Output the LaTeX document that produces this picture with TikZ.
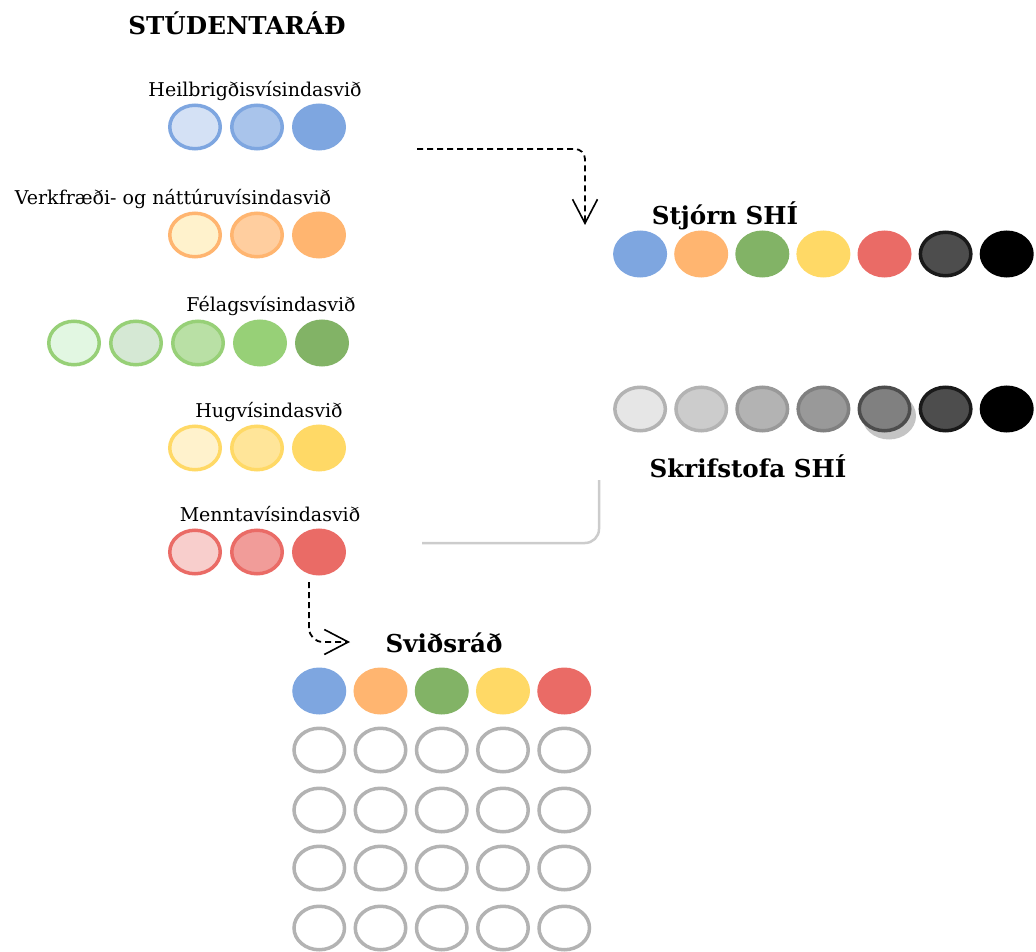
\documentclass[tikz,border=0pt]{standalone}
\usepackage{fontspec}
\setmainfont{DejaVu Serif}
\usetikzlibrary{shapes.geometric,arrows.meta}

\definecolor{blueA}{HTML}{D4E1F5}
\definecolor{blueM}{HTML}{A9C4EB}
\definecolor{blueD}{HTML}{7EA6E0}
\definecolor{orangeA}{HTML}{FFF2CC}
\definecolor{orangeM}{HTML}{FFCE9F}
\definecolor{orangeD}{HTML}{FFB570}
\definecolor{greenA}{HTML}{E2F7E2}
\definecolor{greenB}{HTML}{D5E8D4}
\definecolor{greenM}{HTML}{B9E0A5}
\definecolor{greenL}{HTML}{97D077}
\definecolor{greenD}{HTML}{82B366}
\definecolor{yellowA}{HTML}{FFF2CC}
\definecolor{yellowM}{HTML}{FFE599}
\definecolor{yellowD}{HTML}{FFD966}
\definecolor{redA}{HTML}{F8CECC}
\definecolor{redM}{HTML}{F19C99}
\definecolor{redD}{HTML}{EA6B66}
\definecolor{greyA}{HTML}{E6E6E6}
\definecolor{greyB}{HTML}{CCCCCC}
\definecolor{greyC}{HTML}{B3B3B3}
\definecolor{greyD}{HTML}{999999}
\definecolor{greyE}{HTML}{808080}
\definecolor{greyF}{HTML}{4D4D4D}
\definecolor{greyG}{HTML}{1A1A1A}
\definecolor{shadowgrey}{HTML}{C4C4C4}

\begin{document}
\begin{tikzpicture}[x=0.5pt,y=-0.5pt,
    dot/.style={ellipse,inner sep=0pt,minimum width=25.25pt,minimum height=21.75pt,line width=1.75pt},
    lbl/.style={anchor=base,font=\fontsize{9.5}{11}\selectfont},
    head/.style={anchor=base,font=\fontsize{12.3}{14}\selectfont\bfseries},
    flow/.style={dash pattern=on 3pt off 2pt,line width=0.9pt,rounded corners=5pt,
      -{Straight Barb[length=12pt,width=12.5pt,line width=0.8pt]}}]
  \useasboundingbox (0,0) rectangle (1036,951);

  % svid
  \node[head] (title) at (237,35) {STÚDENTARÁÐ};
  \node[lbl] (hvsLabel) at (255,97) {Heilbrigðisvísindasvið};
  \foreach \fc/\dc [count=\i] in {blueA/blueD,blueM/blueD,blueD/blueD}
    \node[dot,fill=\fc,draw=\dc] (hvs\i) at ({133+62*\i},127) {};
  \node[lbl] (vonLabel) at (173,205) {Verkfræði- og náttúruvísindasvið};
  \foreach \fc/\dc [count=\i] in {orangeA/orangeD,orangeM/orangeD,orangeD/orangeD}
    \node[dot,fill=\fc,draw=\dc] (von\i) at ({133+62*\i},235) {};
  \node[lbl] (fvsLabel) at (271,312) {Félagsvísindasvið};
  \foreach \fc/\dc [count=\i] in {greenA/greenL,greenB/greenL,greenM/greenL,greenL/greenL,greenD/greenD}
    \node[dot,fill=\fc,draw=\dc] (fvs\i) at ({12+62*\i},343) {};
  \node[lbl] (hugLabel) at (269,417) {Hugvísindasvið};
  \foreach \fc/\dc [count=\i] in {yellowA/yellowD,yellowM/yellowD,yellowD/yellowD}
    \node[dot,fill=\fc,draw=\dc] (hug\i) at ({133+62*\i},448) {};
  \node[lbl] (mvsLabel) at (270,521) {Menntavísindasvið};
  \foreach \fc/\dc [count=\i] in {redA/redD,redM/redD,redD/redD}
    \node[dot,fill=\fc,draw=\dc] (mvs\i) at ({133+62*\i},552) {};

  % stjorn og skrifstofa
  \node[head] (stjLabel) at (725,225) {Stjórn SHÍ};
  \foreach \fc/\dc [count=\i] in {blueD/blueD,orangeD/orangeD,greenD/greenD,yellowD/yellowD,redD/redD,greyF/greyG,black/black}
    \node[dot,fill=\fc,draw=\dc] (stj\i) at ({579+61.1*\i},254) {};
  \fill[shadowgrey] (889,416) ellipse [x radius=13.5pt,y radius=11.75pt];
  \foreach \fc/\dc [count=\i] in {greyA/greyC,greyB/greyC,greyC/greyD,greyD/greyE,greyE/greyF,greyF/greyG,black/black}
    \node[dot,fill=\fc,draw=\dc] (skr\i) at ({579+61.1*\i},409) {};
  \node[head] (skrLabel) at (748,477) {Skrifstofa SHÍ};

  % svidsrad
  \node[head] (svdLabel) at (444,652) {Sviðsráð};
  \foreach \fc [count=\i] in {blueD,orangeD,greenD,yellowD,redD}
    \node[dot,fill=\fc,draw=\fc] (svd\i) at ({258+61.25*\i},691) {};
  \foreach \r/\y in {1/750,2/810,3/868,4/928}
    \foreach \i in {1,...,5}
      \node[dot,fill=white,draw=greyC] (svd\r-\i) at ({258+61.25*\i},\y) {};

  % tengingar
  \coordinate (hvsOut) at (417,149);
  \coordinate (stjIn) at (585,225);
  \draw[flow] (hvsOut) -| (stjIn);
  \coordinate (mvsOut) at (309,582);
  \coordinate (svdIn) at (350,642);
  \draw[flow,rounded corners=7pt] (mvsOut) |- (svdIn);
  \coordinate (skrOut) at (599,480);
  \coordinate (mvsIn) at (422,543);
  \draw[greyB,line width=1.25pt,rounded corners=7pt] (skrOut) |- (mvsIn);
\end{tikzpicture}
\end{document}
